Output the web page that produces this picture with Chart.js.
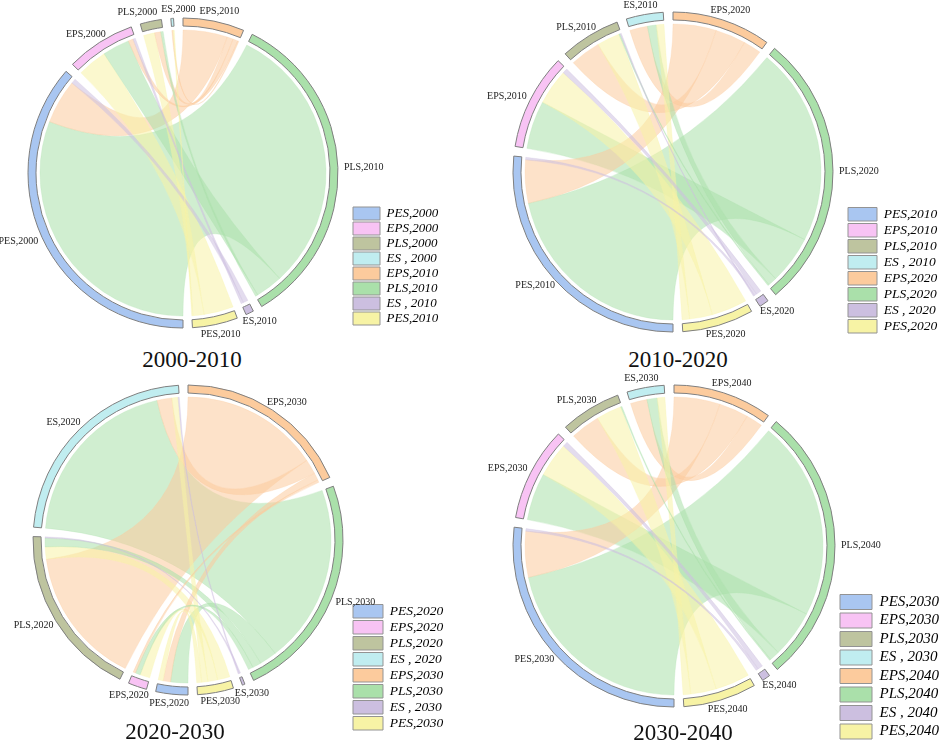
<!DOCTYPE html>
<html>
<head>
<meta charset="utf-8">
<script src="https://cdn.jsdelivr.net/npm/chart.js@4.4.0/dist/chart.umd.min.js"></script>
<style>
  html, body { margin: 0; padding: 0; width: 941px; height: 742px; overflow: hidden; background: #fff; }
  canvas { position: absolute; }
  .title { position: absolute; font-family: 'Liberation Serif', serif; font-size: 23px; line-height: 1;
           color: #111; white-space: nowrap; transform: translateX(-50%); }
</style>
</head>
<body>
<script>
// === Data === //

// left half of every circle = first year, right half = second year
const sourceCategories = ['PES', 'EPS', 'PLS', 'ES']
const targetCategories = ['EPS', 'PLS', 'ES', 'PES']
const periods = [['2000', '2010'], ['2010', '2020'], ['2020', '2030'], ['2030', '2040']]

// transfer flows, rows = sourceCategories, cols = targetCategories
const flows2000to2010 = [
  [18, 111, 2, 0],
  [2, 11, 1, 12],
  [2.5, 1, 0, 4.5],
  [0.5, 0, 0, 0.5]
]
const flows2010to2020 = [
  [17, 78, 1, 0],
  [0, 19, 2, 14],
  [12, 0.5, 0.5, 9],
  [7, 3.5, 0, 3]
]
const flows2020to2030 = [
  [3, 7, 0, 2],
  [1, 2, 0, 4],
  [56, 3.5, 0.5, 5],
  [6, 72.5, 0.5, 2.5]
]
const flows2030to2040 = [
  [18, 78, 1, 0],
  [0, 18.5, 2, 13.5],
  [11.5, 0.5, 0, 10],
  [6.5, 4, 0, 3]
]
const periodFlows = [flows2000to2010, flows2010to2020, flows2020to2030, flows2030to2040]

// === Styles and layout === //

const sourceColors = { PES: '#a9c6f1', EPS: '#f8c3f4', PLS: '#bec49f', ES: '#c0edf0' }
const targetColors = { EPS: '#fccb9d', PLS: '#aae0aa', ES: '#ccbfe0', PES: '#f7f3a5' }
const GAP_DEG = 3.5
const RING = 8
const serif = "'Liberation Serif', 'Times New Roman', serif"

const panelBoxes = [
  { left: 0, top: 0, width: 470, height: 345, cx: 183, cy: 173, R: 155,
    boxLeft: 353, lastBoxBottom: 325, font: 13, boxW: 27, pad: 2, titleX: 192, titleTop: 348 },
  { left: 470, top: 0, width: 490, height: 345, cx: 673, cy: 172, R: 160,
    boxLeft: 848, lastBoxBottom: 333, font: 13.5, boxW: 29, pad: 2.5, titleX: 678, titleTop: 348 },
  { left: 0, top: 340, width: 470, height: 402, cx: 188, cy: 540, R: 155,
    boxLeft: 353, lastBoxBottom: 730, font: 13.5, boxW: 30, pad: 2.5, titleX: 175, titleTop: 720 },
  { left: 470, top: 340, width: 490, height: 404, cx: 674, cy: 546, R: 161,
    boxLeft: 840, lastBoxBottom: 739, font: 15, boxW: 32, pad: 3.5, titleX: 683, titleTop: 721 }
]

function rgba(hex, a) {
  const n = parseInt(hex.slice(1), 16)
  return `rgba(${n >> 16},${(n >> 8) & 255},${n & 255},${a})`
}

// ribbons between the arcs + the sector names round the circle
const chordPlugin = {
  id: 'chord',
  beforeDatasetsDraw(chart, args, opts) {
    const arcs = chart.getDatasetMeta(0).data
    const ctx = chart.ctx
    const flows = opts.flows
    const ns = flows.length, nt = flows[0].length
    const cx = arcs[0].x, cy = arcs[0].y
    const r = arcs[0].innerRadius - opts.ribbonGap

    // lay the ribbons out inside each sector, biggest first (clockwise)
    const src = flows.map(row => row.map(() => null))
    const tgt = flows.map(row => row.map(() => null))
    const layout = (arc, items, store) => {
      const total = items.reduce((s, it) => s + it.v, 0)
      let a = arc.startAngle
      const span = arc.endAngle - arc.startAngle
      items.slice().sort((p, q) => q.v - p.v).forEach(it => {
        const w = total ? span * it.v / total : 0
        store(it, [a, a + w])
        a += w
      })
    }
    for (let i = 0; i < ns; i++) {
      const items = flows[i].map((v, j) => ({ i, j, v }))
      layout(arcs[2 * i], items, (it, s) => { src[it.i][it.j] = s })
    }
    for (let j = 0; j < nt; j++) {
      const items = flows.map((row, i) => ({ i, j, v: row[j] }))
      layout(arcs[2 * (ns + j)], items, (it, s) => { tgt[it.i][it.j] = s })
    }

    const list = []
    flows.forEach((row, i) => row.forEach((v, j) => { if (v > 0) list.push({ i, j, v }) }))
    list.sort((p, q) => q.v - p.v)

    ctx.save()
    ctx.lineWidth = 0.7
    list.forEach(({ i, j }) => {
      const [a0, a1] = src[i][j]
      const [b0, b1] = tgt[i][j]
      const col = targetColors[targetCategories[j]]
      ctx.beginPath()
      ctx.moveTo(cx + r * Math.cos(a0), cy + r * Math.sin(a0))
      ctx.arc(cx, cy, r, a0, a1)
      ctx.quadraticCurveTo(cx, cy, cx + r * Math.cos(b0), cy + r * Math.sin(b0))
      ctx.arc(cx, cy, r, b0, b1)
      ctx.quadraticCurveTo(cx, cy, cx + r * Math.cos(a0), cy + r * Math.sin(a0))
      ctx.closePath()
      ctx.fillStyle = rgba(col, opts.alpha)
      ctx.fill()
      ctx.strokeStyle = rgba(col, 0.35)
      ctx.stroke()
    })
    ctx.restore()
  },
  afterDatasetsDraw(chart, args, opts) {
    const arcs = chart.getDatasetMeta(0).data
    const ctx = chart.ctx
    ctx.save()
    ctx.font = `${opts.labelSize}px ${serif}`
    ctx.fillStyle = '#222'
    ctx.textAlign = 'center'
    ctx.textBaseline = 'middle'
    const h = opts.labelSize * 0.7
    const placed = opts.sectorLabels.map((text, k) => {
      const arc = arcs[2 * k]
      const mid = (arc.startAngle + arc.endAngle) / 2
      const d = arc.outerRadius + opts.labelOffset
      const w = ctx.measureText(text).width
      return {
        text, w,
        x: arc.x + d * Math.cos(mid) + Math.cos(mid) * w / 2,
        y: arc.y + d * Math.sin(mid) + Math.sin(mid) * h / 2
      }
    })
    // push apart names that would sit on top of each other
    for (let it = 0; it < 20; it++) {
      for (let a = 0; a < placed.length; a++) {
        for (let b = a + 1; b < placed.length; b++) {
          const p = placed[a], q = placed[b]
          if (Math.abs(p.y - q.y) >= h + 1) continue
          const need = (p.w + q.w) / 2 + 4 - Math.abs(p.x - q.x)
          if (need <= 0) continue
          const dir = p.x <= q.x ? 1 : -1
          p.x -= dir * need / 2
          q.x += dir * need / 2
        }
      }
    }
    placed.forEach(l => ctx.fillText(l.text, l.x, l.y))
    ctx.restore()
  }
}

const measureCtx = document.createElement('canvas').getContext('2d')

function buildPanel(p) {
  const box = panelBoxes[p]
  const flows = periodFlows[p]
  const [y0, y1] = periods[p]

  const sourceTotals = flows.map(row => row.reduce((s, v) => s + v, 0))
  const targetTotals = targetCategories.map((c, j) => flows.reduce((s, row) => s + row[j], 0))
  const sectorValues = sourceTotals.concat(targetTotals)
  const sectorCats = sourceCategories.concat(targetCategories)
  const sectorYears = sourceCategories.map(() => y0).concat(targetCategories.map(() => y1))
  const sectorColors = sourceCategories.map(c => sourceColors[c]).concat(targetCategories.map(c => targetColors[c]))
  const sectorLabels = sectorCats.map((c, k) => `${c},${sectorYears[k]}`)
  const legendLabels = sectorCats.map((c, k) => c === 'ES' ? `ES , ${sectorYears[k]}` : `${c},${sectorYears[k]}`)

  // interleave a transparent gap after every sector
  const sum = sectorValues.reduce((s, v) => s + v, 0)
  const n = sectorValues.length
  const gap = GAP_DEG * sum / (360 - n * GAP_DEG)
  const data = [], colors = [], borders = [], labels = []
  sectorValues.forEach((v, k) => {
    data.push(v, gap)
    colors.push(sectorColors[k], 'rgba(0,0,0,0)')
    borders.push(1, 0)
    labels.push(sectorLabels[k], '')
  })

  // legend geometry -> layout padding so the circle sits where it should
  const legendFont = `italic ${box.font}px ${serif}`
  measureCtx.font = legendFont
  const maxText = Math.max(...legendLabels.map(t => measureCtx.measureText(t).width))
  const legendWidth = box.pad + box.boxW + box.font / 2 + maxText + 10
  const legendLeft = box.boxLeft - box.pad - box.left
  const legendBottom = box.lastBoxBottom + box.pad - box.top
  const padding = {
    left: 2 * (box.cx - box.left) - legendLeft,
    right: box.width - legendWidth - legendLeft,
    top: 2 * (box.cy - box.top) - legendBottom,
    bottom: box.height - legendBottom
  }

  const canvas = document.createElement('canvas')
  canvas.width = box.width
  canvas.height = box.height
  canvas.style.left = box.left + 'px'
  canvas.style.top = box.top + 'px'
  canvas.style.width = box.width + 'px'
  canvas.style.height = box.height + 'px'
  document.body.appendChild(canvas)

  const title = document.createElement('div')
  title.className = 'title'
  title.style.left = box.titleX + 'px'
  title.style.top = box.titleTop + 'px'
  title.textContent = `${y0}-${y1}`
  document.body.appendChild(title)

  new Chart(canvas, {
    type: 'doughnut',
    data: {
      labels,
      datasets: [{
        data,
        backgroundColor: colors,
        borderColor: '#7f7f7f',
        borderWidth: borders,
        hoverOffset: 0,
        clip: false
      }]
    },
    options: {
      responsive: false,
      animation: false,
      devicePixelRatio: 1,
      rotation: 180,
      radius: box.R,
      cutout: `${(1 - RING / box.R) * 100}%`,
      layout: { padding },
      events: [],
      plugins: {
        tooltip: { enabled: false },
        legend: {
          position: 'right',
          align: 'end',
          z: 1,
          labels: {
            boxWidth: box.boxW,
            boxHeight: box.font,
            padding: box.pad,
            color: '#222',
            font: { family: serif, style: 'italic', size: box.font },
            generateLabels: () => legendLabels.map((text, k) => ({
              text,
              fillStyle: sectorColors[k],
              strokeStyle: '#939393',
              lineWidth: 1,
              hidden: false,
              index: 2 * k,
              datasetIndex: 0
            }))
          }
        },
        chord: { flows, sectorLabels, alpha: 0.55, ribbonGap: 4, labelOffset: 6, labelSize: 10 }
      }
    },
    plugins: [chordPlugin]
  })
}

periods.forEach((_, p) => buildPanel(p))
</script>
</body>
</html>
